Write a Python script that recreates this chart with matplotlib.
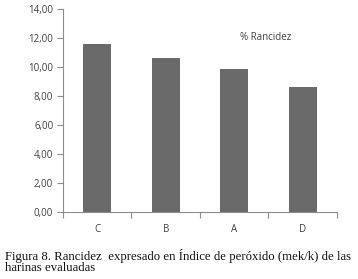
import matplotlib
matplotlib.use("Agg")
import matplotlib.pyplot as plt

# data
categories = ["C", "B", "A", "D"]
rancidez = [11.6, 10.6, 9.84, 8.6]
yticks = [0, 2, 4, 6, 8, 10, 12, 14]

BAR_COLOR = "#696a69"
AXIS_COLOR = "#8c8c8c"
TEXT_COLOR = "#404040"

fig = plt.figure(figsize=(3.58, 2.79), dpi=100)
ax = fig.add_axes([0.176, 0.241, 0.765, 0.727])

x = list(range(len(categories)))
ax.bar(x, rancidez, width=0.41, color=BAR_COLOR, zorder=2)

ax.set_xlim(-0.5, len(categories) - 0.5)
ax.set_ylim(0, 14)

# y axis
ax.set_yticks(yticks)
ax.set_yticklabels([f"{v:.2f}".replace(".", ",") for v in yticks],
                   fontsize=7, color=TEXT_COLOR, family="Open Sans")
ax.tick_params(axis="y", direction="out", length=4, width=0.8,
               color=AXIS_COLOR, pad=3)

# x axis: ticks at boundaries, labels at centers
ax.set_xticks([i - 0.5 for i in range(len(categories) + 1)])
ax.set_xticklabels([])
ax.tick_params(axis="x", which="major", direction="out", length=4,
               width=0.8, color=AXIS_COLOR)
ax.set_xticks(x, minor=True)
ax.set_xticklabels(categories, minor=True, fontsize=7, color=TEXT_COLOR,
                   family="Open Sans")
ax.tick_params(axis="x", which="minor", length=0, pad=9)

for side in ["top", "right"]:
    ax.spines[side].set_visible(False)
for side in ["left", "bottom"]:
    ax.spines[side].set_color(AXIS_COLOR)
    ax.spines[side].set_linewidth(0.8)

ax.text(0.74, 0.86, "% Rancidez", transform=ax.transAxes, ha="center",
        va="center", fontsize=7, color=TEXT_COLOR, family="Open Sans")

# caption below the chart
fig.text(5 / 358, 1 - 260 / 279,
         "Figura 8. Rancidez  expresado en Índice de peróxido (mek/k) de las",
         ha="left", va="baseline", fontsize=9.2, family="Liberation Serif",
         color="#111111")
fig.text(5 / 358, 1 - 271 / 279, "harinas evaluadas", ha="left",
         va="baseline", fontsize=9.2, family="Liberation Serif",
         color="#111111")

fig.savefig("out.png", dpi=100)
